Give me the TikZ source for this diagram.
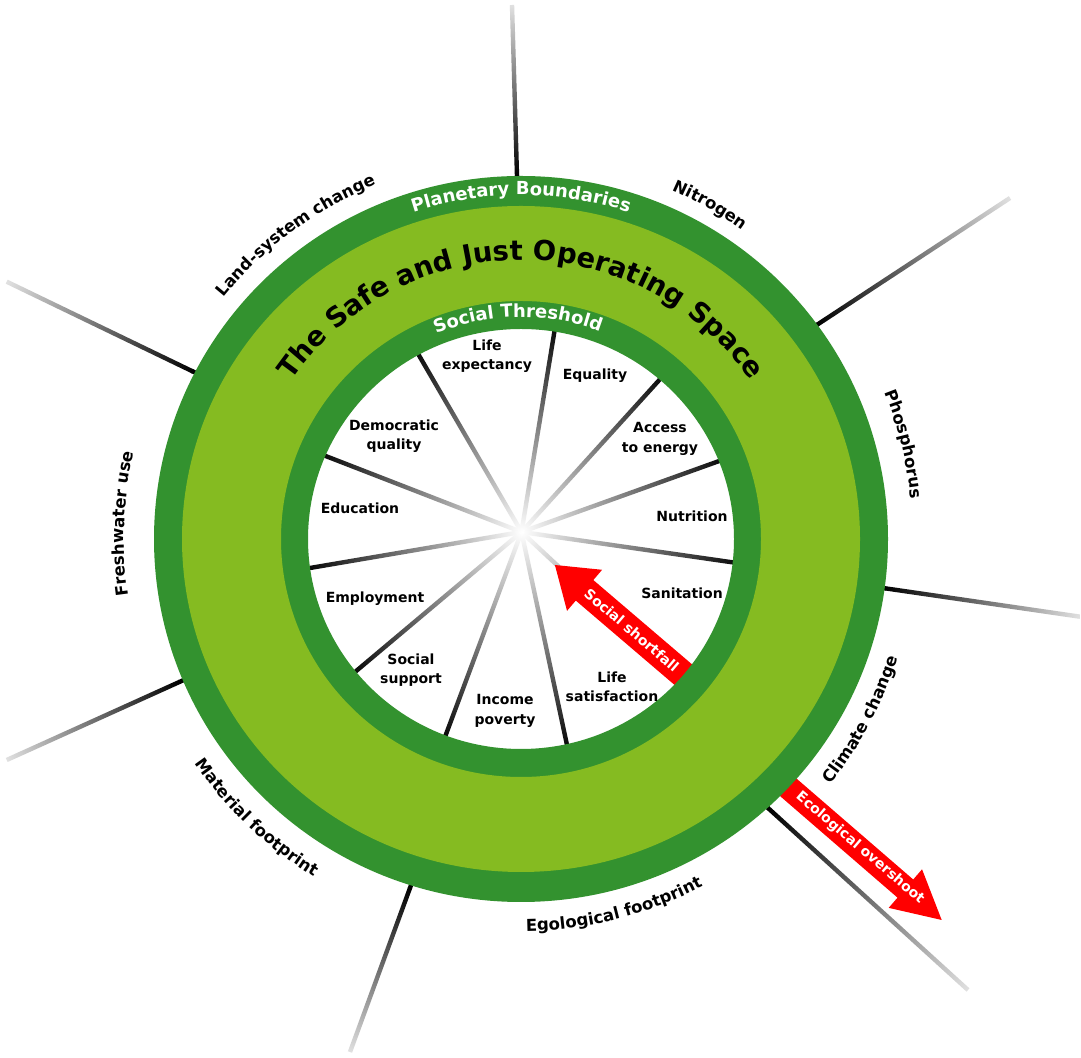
\documentclass[tikz,border=0pt]{standalone}
\usepackage{fontspec}
\setmainfont{DejaVu Sans}
\usetikzlibrary{decorations.text}
\definecolor{dkgreen}{RGB}{51,146,47}
\definecolor{ltgreen}{RGB}{133,187,33}
\definecolor{arrred}{RGB}{255,0,0}
\newcommand\inlblfont{\fontsize{14}{19.5}\selectfont\bfseries}
\newcommand\outlblfont{\fontsize{16.5}{16.5}\selectfont\bfseries}
\newcommand\bandfont{\fontsize{18}{18}\selectfont\bfseries}
\newcommand\titlefont{\fontsize{27.5}{27.5}\selectfont\bfseries}
\begin{document}
\begin{tikzpicture}[x=1pt,y=1pt,
  inlabel/.style={font=\inlblfont, align=center, inner sep=0pt, text=black},
  arrowtext/.style={font=\fontsize{14}{14}\selectfont\bfseries, text=white, inner sep=0pt, rotate=-40.5},
  outward/.style={decorate, decoration={text along path, text align=center, text={|\outlblfont|#1}}},
  bandtext/.style={decorate, decoration={text along path, text align=center, text={|\bandfont\color{white}|#1}}}
  ]
\useasboundingbox (0,0) rectangle (1081,1057);
\fill[white] (0,0) rectangle (1081,1057);
\coordinate (C) at (521,518);
\coordinate (S) at (521.5,525);

% inner spokes (white at centre to black at the rim)
\foreach \bx/\by in {555/328, 662/377, 722/460, 737/563, 677/677, 567/745, 445/737, 355/672, 310/568, 323/455, 417/352}{
  \pgfmathsetmacro\ang{atan2(532-\by,\bx-521.5)}
  \pgfmathsetmacro\len{veclen(\bx-521.5,532-\by)+8}
  \begin{scope}[transform canvas={shift={(S)}, rotate=\ang}]
    \shade[left color=white, right color=black] (0,-2.2) rectangle (\len,2.2);
  \end{scope}
}

% outer spokes (black at the rim, fading outwards)
\foreach \ax/\ay/\bx/\by in {517/176/512/5, 816.7/325/1010/198, 885/588.3/1080/616.7, 768/808/968/990, 410/888/350/1052, 180/681.7/6.7/760, 193.3/371.7/6.7/281.7}{
  \pgfmathsetmacro\ang{atan2(\ay-\by,\bx-\ax)}
  \pgfmathsetmacro\len{veclen(\bx-\ax,\ay-\by)}
  \pgfmathsetmacro\sy{1057-\ay}
  \begin{scope}[transform canvas={shift={(\ax,\sy)}, rotate=\ang}]
    \fill[black] (-12,-2.2) rectangle (1,2.2);
    \shade[left color=black, right color=white!88!black] (0,-2.2) rectangle (\len,2.2);
  \end{scope}
}

% arrows
\begin{scope}[shift={(697.4,370.3)}, rotate=139.5]
  \fill[arrred] (0,-13.5) -- (148.4,-13.5) -- (148.4,-27) -- (187.4,0) -- (148.4,27) -- (148.4,13.5) -- (0,13.5) -- cycle;
\end{scope}
\begin{scope}[shift={(773.9,282.1)}, rotate=-40.85]
  \fill[arrred] (0,-12) -- (173.8,-12) -- (173.8,-25.5) -- (221.8,0) -- (173.8,25.5) -- (173.8,12) -- (0,12) -- cycle;
\end{scope}

% rings
\fill[dkgreen, even odd rule] (C) ellipse[x radius=367, y radius=363] (C) ellipse[x radius=213, y radius=210];
\fill[ltgreen, even odd rule] (C) ellipse[x radius=339, y radius=333] (C) ellipse[x radius=240, y radius=238];

% ring texts
\path[bandtext={Planetary Boundaries}] ([shift={(130:344)}]C) arc[start angle=130, end angle=50, radius=344];
\path[bandtext={Social Threshold}] ([shift={(140.8:222)}]C) arc[start angle=140.8, end angle=40.8, radius=222];
\path[decorate, decoration={text along path, text align=center, text={|\titlefont|The Safe and Just Operating Space}}] ([shift={(165:279)}]C) arc[start angle=165, end angle=15, radius=279];

% planetary boundary labels
\path[outward={Land-system change}] ([shift={(166.6:383)}]C) arc[start angle=166.6, end angle=86.6, radius=383];
\path[outward={Nitrogen}] ([shift={(100.5:380)}]C) arc[start angle=100.5, end angle=20.5, radius=380];
\path[outward={Phosphorus}] ([shift={(53.9:392)}]C) arc[start angle=53.9, end angle=-26.1, radius=392];
\path[outward={Freshwater use}] ([shift={(217.8:397)}]C) arc[start angle=217.8, end angle=137.8, radius=397];
\path[outward={Climate change}] ([shift={(-68:395)}]C) arc[start angle=-68, end angle=12, radius=395];
\path[outward={Egological footprint}] ([shift={(-115.8:392)}]C) arc[start angle=-115.8, end angle=-35.8, radius=392];
\path[outward={Material footprint}] ([shift={(-173.5:396)}]C) arc[start angle=-173.5, end angle=-93.5, radius=396];

% social foundation labels
\node[inlabel] (lifeexp) at (487,701) {Life\\expectancy};
\node[inlabel] (equality) at (595,681) {Equality};
\node[inlabel] (energy) at (660,618) {Access\\to energy};
\node[inlabel] (nutrition) at (692,541) {Nutrition};
\node[inlabel] (sanitation) at (682,464) {Sanitation};
\node[inlabel] (lifesat) at (612,370) {Life\\satisfaction};
\node[inlabel] (income) at (505,346) {Income\\poverty};
\node[inlabel] (support) at (411,387) {Social\\support};
\node[inlabel] (employment) at (375,458) {Employment};
\node[inlabel] (education) at (360,549) {Education};
\node[inlabel] (democracy) at (394,621) {Democratic\\quality};

% arrow labels
\node[arrowtext] (shortfall) at (631.7,427) {Social shortfall};
\node[arrowtext] (overshoot) at (860,209) {Ecological overshoot};
\end{tikzpicture}
\end{document}
